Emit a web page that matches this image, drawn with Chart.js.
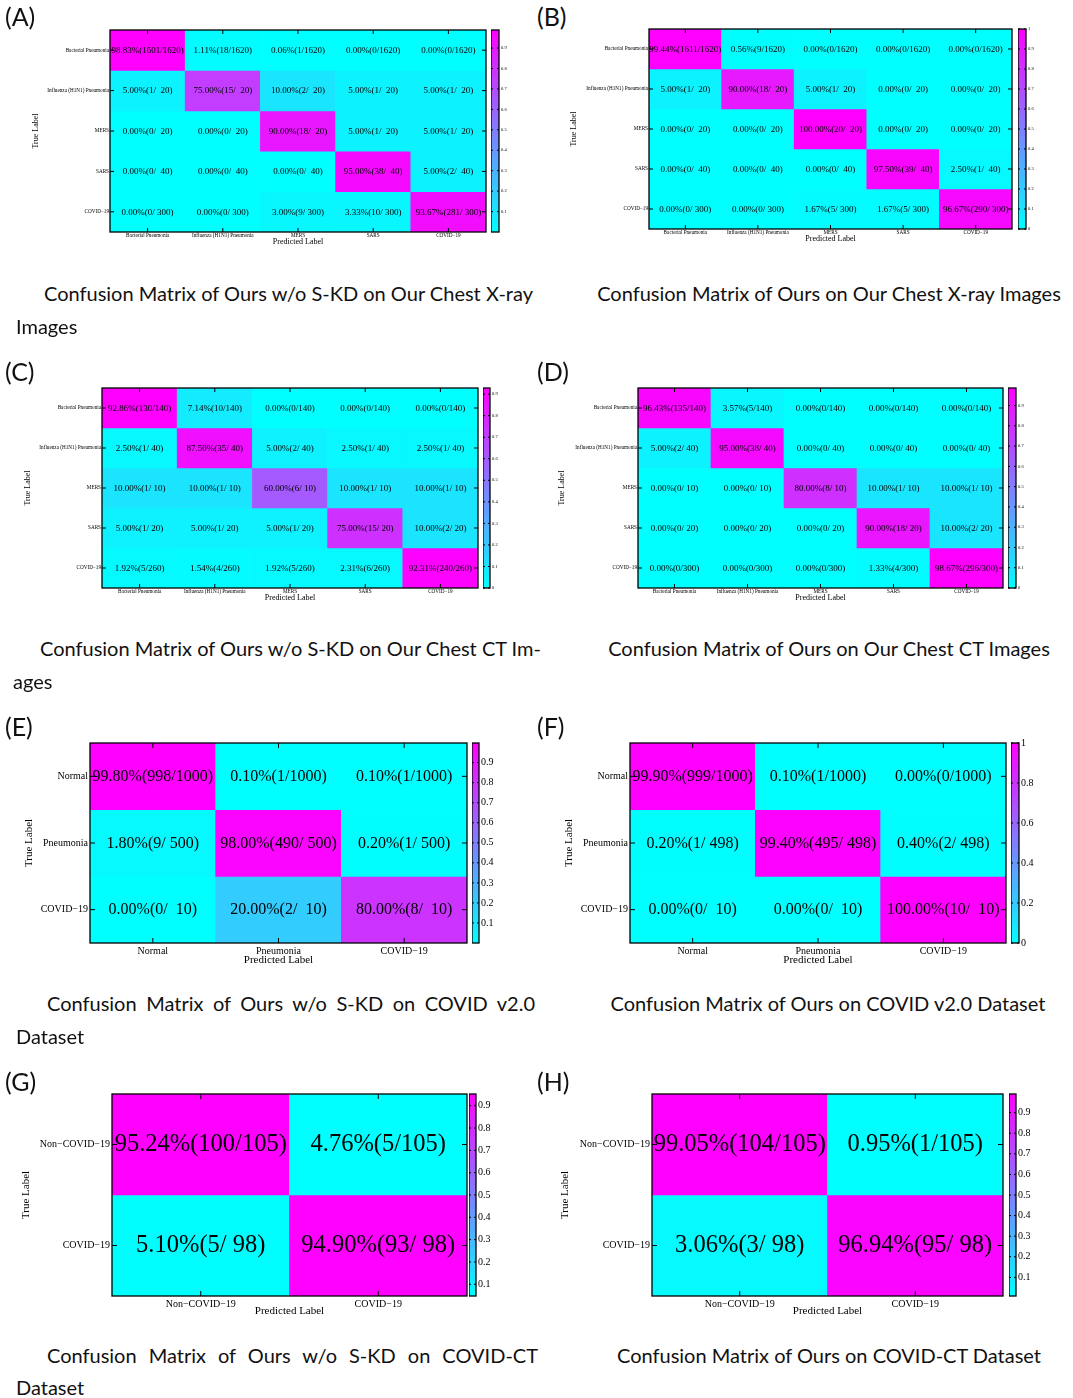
<!DOCTYPE html>
<html>
<head>
<meta charset="utf-8">
<title>Confusion matrices</title>
<script src="https://cdn.jsdelivr.net/npm/chart.js@4.4.0/dist/chart.umd.min.js"></script>
<style>
  body { margin: 0; background: #fff; }
  #page { position: relative; width: 1073px; height: 1398px; overflow: hidden; }
  canvas { position: absolute; }
  .tag { position: absolute; font: 25px Lato, sans-serif; line-height: 25px; color: #111; }
  .cap { position: absolute; font: 20px Lato, sans-serif; line-height: 33px; color: #111; white-space: nowrap; }
  .just { text-align: justify; text-align-last: justify; white-space: normal; }
  .mid { text-align: center; width: 600px; }
</style>
</head>
<body>
<div id="page"></div>
<script>
// class names
const labels5 = ['Bacterial Pneumonia', 'Influenza (H1N1) Pneumonia', 'MERS', 'SARS', 'COVID\u221219'];
const labels3 = ['Normal', 'Pneumonia', 'COVID\u221219'];
const labels2 = ['Non\u2212COVID\u221219', 'COVID\u221219'];

// counts per true label (rows) and predicted label (cols)
const countsA = [[1601, 18, 1, 0, 0], [1, 15, 2, 1, 1], [0, 0, 18, 1, 1], [0, 0, 0, 38, 2], [0, 0, 9, 10, 281]];
const countsB = [[1611, 9, 0, 0, 0], [1, 18, 1, 0, 0], [0, 0, 20, 0, 0], [0, 0, 0, 39, 1], [0, 0, 5, 5, 290]];
const countsC = [[130, 10, 0, 0, 0], [1, 35, 2, 1, 1], [1, 1, 6, 1, 1], [1, 1, 1, 15, 2], [5, 4, 5, 6, 240]];
const countsD = [[135, 5, 0, 0, 0], [2, 38, 0, 0, 0], [0, 0, 8, 1, 1], [0, 0, 0, 18, 2], [0, 0, 0, 4, 296]];
const countsE = [[998, 1, 1], [9, 490, 1], [0, 2, 8]];
const countsF = [[999, 1, 0], [1, 495, 2], [0, 0, 10]];
const countsG = [[100, 5], [5, 93]];
const countsH = [[104, 1], [3, 95]];

// colorbar tick labels
const cbTicksA = [0.1, 0.2, 0.3, 0.4, 0.5, 0.6, 0.7, 0.8, 0.9];
const cbTicksB = [0, 0.1, 0.2, 0.3, 0.4, 0.5, 0.6, 0.7, 0.8, 0.9, 1];
const cbTicksC = [0, 0.1, 0.2, 0.3, 0.4, 0.5, 0.6, 0.7, 0.8, 0.9];
const cbTicksD = [0, 0.1, 0.2, 0.3, 0.4, 0.5, 0.6, 0.7, 0.8, 0.9];
const cbTicksE = [0.1, 0.2, 0.3, 0.4, 0.5, 0.6, 0.7, 0.8, 0.9];
const cbTicksF = [0, 0.2, 0.4, 0.6, 0.8, 1];
const cbTicksG = [0.1, 0.2, 0.3, 0.4, 0.5, 0.6, 0.7, 0.8, 0.9];
const cbTicksH = [0.1, 0.2, 0.3, 0.4, 0.5, 0.6, 0.7, 0.8, 0.9];

const small = { cell: 9, tick: 5.2, title: 8, cb: 4.5, tickLen: 4, pad: 1, lw: 1.3 };
const midS = { cell: 16, tick: 10, title: 11, cb: 10, tickLen: 5, pad: 2, lw: 1.3 };
const big = { cell: 24.5, tick: 10, title: 11, cb: 10, tickLen: 5, pad: 2, lw: 1.3 };

const panels = [
  { tag: '(A)', tx: 5, ty: 4, rows: labels5, counts: countsA, cbTicks: cbTicksA, w: 4, st: small,
    box: { L: 110, R: 486, T: 30, B: 232 }, cb: { L: 491, R: 499 }, yt: 36, xh: 15 },
  { tag: '(B)', tx: 537, ty: 4, rows: labels5, counts: countsB, cbTicks: cbTicksB, w: 4, st: small,
    box: { L: 649, R: 1012, T: 29, B: 229 }, cb: { L: 1018, R: 1026 }, yt: 574, xh: 15 },
  { tag: '(C)', tx: 5, ty: 359, rows: labels5, counts: countsC, cbTicks: cbTicksC, w: 3, st: small,
    box: { L: 102, R: 478, T: 388, B: 588 }, cb: { L: 483, R: 490 }, yt: 28, xh: 15 },
  { tag: '(D)', tx: 537, ty: 359, rows: labels5, counts: countsD, cbTicks: cbTicksD, w: 3, st: small,
    box: { L: 638, R: 1003, T: 388, B: 588 }, cb: { L: 1008, R: 1016 }, yt: 562, xh: 15 },
  { tag: '(E)', tx: 5, ty: 714, rows: labels3, counts: countsE, cbTicks: cbTicksE, w: 4, st: midS,
    box: { L: 90, R: 467, T: 743, B: 943 }, cb: { L: 472, R: 479 }, yt: 30, xh: 24 },
  { tag: '(F)', tx: 537, ty: 714, rows: labels3, counts: countsF, cbTicks: cbTicksF, w: 4, st: midS,
    box: { L: 630, R: 1006, T: 743, B: 943 }, cb: { L: 1011, R: 1019 }, yt: 570, xh: 24 },
  { tag: '(G)', tx: 5, ty: 1069, rows: labels2, counts: countsG, cbTicks: cbTicksG, w: 3, st: big,
    box: { L: 112, R: 467, T: 1094, B: 1296 }, cb: { L: 469, R: 476 }, yt: 27, xh: 22 },
  { tag: '(H)', tx: 537, ty: 1069, rows: labels2, counts: countsH, cbTicks: cbTicksH, w: 3, st: big,
    box: { L: 652, R: 1003, T: 1094, B: 1296 }, cb: { L: 1009, R: 1016 }, yt: 566, xh: 22 }
];

const captions = [
  { text: 'Confusion Matrix of Ours w/o S-KD on Our Chest X-ray', x: 44, y: 293 },
  { text: 'Images', x: 16, y: 326 },
  { text: 'Confusion Matrix of Ours on Our Chest X-ray Images', cx: 829, y: 293 },
  { text: 'Confusion Matrix of Ours w/o S-KD on Our Chest CT Im-', x: 40, y: 648 },
  { text: 'ages', x: 13, y: 681 },
  { text: 'Confusion Matrix of Ours on Our Chest CT Images', cx: 829, y: 648 },
  { text: 'Confusion Matrix of Ours w/o S-KD on COVID v2.0', x: 47, y: 1003, jw: 488 },
  { text: 'Dataset', x: 16, y: 1036 },
  { text: 'Confusion Matrix of Ours on COVID v2.0 Dataset', cx: 828, y: 1003 },
  { text: 'Confusion Matrix of Ours w/o S-KD on COVID-CT', x: 47, y: 1355, jw: 491 },
  { text: 'Dataset', x: 16, y: 1387 },
  { text: 'Confusion Matrix of Ours on COVID-CT Dataset', cx: 829, y: 1355 }
];

Chart.defaults.font.family = '"Liberation Serif", "Times New Roman", serif';
Chart.defaults.color = '#000';
Chart.defaults.animation = false;

const page = document.getElementById('page');
const PADT = 8;

// MATLAB "cool" colormap
function cool(t) {
  t = Math.max(0, Math.min(1, t));
  return `rgb(${Math.round(255 * t)}, ${Math.round(255 * (1 - t))}, 255)`;
}

function addCanvas(left, top, w, h) {
  const c = document.createElement('canvas');
  c.width = w; c.height = h;
  c.style.left = left + 'px'; c.style.top = top + 'px';
  c.style.width = w + 'px'; c.style.height = h + 'px';
  page.appendChild(c);
  return c;
}

// box + inward tick marks
const framePlugin = {
  id: 'frame',
  afterDatasetsDraw(chart, args, opts) {
    const { ctx, chartArea: a } = chart;
    const len = opts.len;
    ctx.save();
    ctx.strokeStyle = '#000';
    ctx.lineWidth = 1;
    ctx.beginPath();
    if (opts.xTicks) {
      chart.scales.x.ticks.forEach((t, i) => {
        const px = chart.scales.x.getPixelForTick(i);
        ctx.moveTo(px, a.top); ctx.lineTo(px, a.top + len);
        ctx.moveTo(px, a.bottom); ctx.lineTo(px, a.bottom - len);
      });
    }
    chart.scales.y.ticks.forEach(t => {
      const py = chart.scales.y.getPixelForValue(t.value);
      ctx.moveTo(a.left, py); ctx.lineTo(a.left + len, py);
      ctx.moveTo(a.right, py); ctx.lineTo(a.right - len, py);
    });
    ctx.stroke();
    ctx.lineWidth = opts.lw;
    ctx.strokeRect(a.left, a.top, a.right - a.left, a.bottom - a.top);
    ctx.restore();
  }
};

// percentage text in each cell
const cellText = {
  id: 'cellText',
  afterDatasetsDraw(chart, args, opts) {
    const { ctx } = chart;
    const { x, y } = chart.scales;
    const n = opts.texts.length;
    ctx.save();
    ctx.fillStyle = '#000';
    ctx.font = `${opts.size}px "Liberation Serif", serif`;
    ctx.textAlign = 'center';
    ctx.textBaseline = 'middle';
    opts.texts.forEach((row, r) => {
      row.forEach((s, c) => {
        ctx.fillText(s, x.getPixelForValue(c), y.getPixelForValue(n - 0.5 - r) + 0.5);
      });
    });
    ctx.restore();
  }
};

panels.forEach(p => {
  const n = p.rows.length;
  const st = p.st;
  const rates = p.counts.map(row => {
    const tot = row.reduce((a, b) => a + b, 0);
    return row.map(c => c / tot);
  });
  const texts = p.counts.map(row => {
    const tot = row.reduce((a, b) => a + b, 0);
    return row.map(c => (c / tot * 100).toFixed(2) + '%(' + c + '/' + String(tot).padStart(p.w) + ')');
  });
  const flat = rates.flat();
  const vmin = Math.min(...flat);
  const vmax = Math.max(...flat);

  // matrix
  const titleLH = st.title * 1.2;
  const left = Math.round(p.yt - titleLH / 2);
  const top = p.box.T - PADT;
  const yw = p.box.L - left;
  const cw = p.box.R + 2 - left;
  const chh = p.box.B + p.xh - top;
  const canvas = addCanvas(left, top, cw, chh);

  new Chart(canvas, {
    type: 'bar',
    data: {
      labels: p.rows,
      datasets: rates.map((row, r) => ({
        data: row.map(() => [n - 1 - r, n - r]),
        backgroundColor: row.map(v => cool((v - vmin) / (vmax - vmin))),
        borderWidth: 0,
        grouped: false,
        barPercentage: 1,
        categoryPercentage: 1
      }))
    },
    options: {
      responsive: false,
      devicePixelRatio: 1,
      layout: { padding: { top: PADT, right: 2, left: 0, bottom: 0 } },
      plugins: {
        legend: { display: false },
        tooltip: { enabled: false },
        frame: { len: st.tickLen, lw: st.lw, xTicks: true },
        cellText: { texts: texts, size: st.cell }
      },
      scales: {
        x: {
          type: 'category',
          offset: true,
          grid: { display: false, drawTicks: false },
          border: { display: false },
          ticks: { autoSkip: false, maxRotation: 0, minRotation: 0, padding: st.pad, font: { size: st.tick } },
          title: { display: true, text: 'Predicted Label', padding: 0, font: { size: st.title } },
          afterFit: s => { s.height = p.xh; }
        },
        y: {
          type: 'linear',
          min: 0,
          max: n,
          grid: { display: false, drawTicks: false },
          border: { display: false },
          afterBuildTicks: s => { s.ticks = p.rows.map((_, i) => ({ value: n - 0.5 - i })); },
          ticks: {
            padding: st.pad,
            font: { size: st.tick },
            callback: v => p.rows[Math.round(n - 0.5 - v)]
          },
          title: { display: true, text: 'True Label', padding: 0, font: { size: st.title } },
          afterFit: s => { s.width = yw; }
        }
      }
    },
    plugins: [cellText, framePlugin]
  });

  // colorbar
  const cbw = p.cb.R - p.cb.L;
  const lblW = 26;
  const cbCanvas = addCanvas(p.cb.L, top, cbw + lblW, p.box.B - p.box.T + 2 * PADT);
  new Chart(cbCanvas, {
    type: 'bar',
    data: {
      labels: [''],
      datasets: [{
        data: [[vmin, vmax]],
        backgroundColor: ctx => {
          const a = ctx.chart.chartArea;
          if (!a) return cool(0);
          const g = ctx.chart.ctx.createLinearGradient(0, a.bottom, 0, a.top);
          g.addColorStop(0, cool(0));
          g.addColorStop(1, cool(1));
          return g;
        },
        borderWidth: 0,
        barPercentage: 1,
        categoryPercentage: 1
      }]
    },
    options: {
      responsive: false,
      devicePixelRatio: 1,
      layout: { padding: { top: PADT, bottom: PADT, left: 0, right: 0 } },
      plugins: {
        legend: { display: false },
        tooltip: { enabled: false },
        frame: { len: 2, lw: st.lw, xTicks: false }
      },
      scales: {
        x: { display: false },
        y: {
          position: 'right',
          min: vmin,
          max: vmax,
          grid: { display: false, drawTicks: false },
          border: { display: false },
          afterBuildTicks: s => { s.ticks = p.cbTicks.map(v => ({ value: v })); },
          ticks: { padding: 2, font: { size: st.cb }, callback: v => String(+v.toFixed(2)) },
          afterFit: s => { s.width = lblW; }
        }
      }
    },
    plugins: [framePlugin]
  });

  const tag = document.createElement('div');
  tag.className = 'tag';
  tag.textContent = p.tag;
  tag.style.left = p.tx + 'px';
  tag.style.top = p.ty + 'px';
  page.appendChild(tag);
});

captions.forEach(c => {
  const d = document.createElement('div');
  d.className = 'cap';
  d.textContent = c.text;
  d.style.top = (c.y - 16.5) + 'px';
  if (c.cx !== undefined) {
    d.classList.add('mid');
    d.style.left = (c.cx - 300) + 'px';
  } else {
    d.style.left = c.x + 'px';
    if (c.jw) { d.classList.add('just'); d.style.width = c.jw + 'px'; }
  }
  page.appendChild(d);
});
</script>
</body>
</html>
